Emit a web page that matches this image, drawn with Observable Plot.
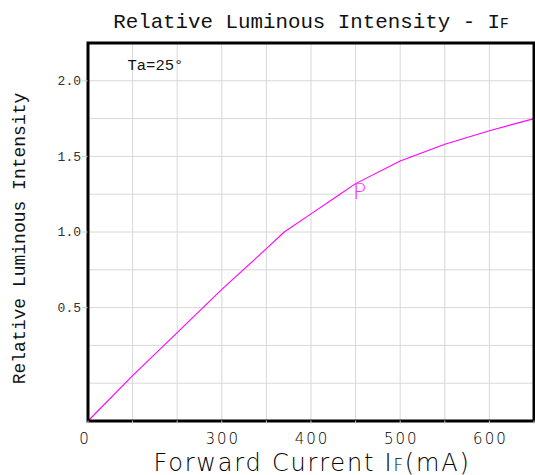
<!DOCTYPE html>
<html>
<head>
<meta charset="utf-8">
<script src="https://cdn.jsdelivr.net/npm/d3@7"></script>
<script src="https://cdn.jsdelivr.net/npm/@observablehq/plot@0.6"></script>
<style>
  html, body { margin: 0; padding: 0; background: #fff; }
  #chart svg { display: block; }
</style>
</head>
<body>
<div id="chart"></div>
<script>
// ---- data ----
const current   = [0, 100, 200, 300, 350, 370, 400, 430, 450, 500, 550, 600, 650];           // mA
const intensity = [0, 0.20, 0.39, 0.62, 0.89, 1.00, 1.12, 1.24, 1.32, 1.47, 1.58, 1.67, 1.75]; // relative
// grid (non-uniform axes of the datasheet: each grid cell is one step)
const xGrid = [0, 100, 200, 300, 350, 400, 450, 500, 550, 600, 650];
const yGrid = [0, 1/6, 1/3, 0.5, 0.75, 1, 1.25, 1.5, 1.75, 2, 2.25];
const xTickLabels = [300, 400, 500, 600];
const xOriginLabel = [0];
const yTickLabels = [0.5, 1.0, 1.5, 2.0];
const title  = "Relative Luminous Intensity - IF";
const xLabel = "Forward Current IF(mA)";
const yLabel = "Relative Luminous Intensity";
const note   = "Ta=25°";
const markerLabel = [{current: 447, intensity: 1.22, text: "P"}];

const data = current.map((c, i) => ({current: c, intensity: intensity[i]}));

const serif = "'Liberation Mono', 'DejaVu Sans Mono', monospace";
const sans = "'DejaVu Sans', sans-serif";
const gridColor = "#d8d8d8";

const plot = Plot.plot({
  width: 535,
  height: 475,
  marginLeft: 87.5,
  marginRight: 1.5,
  marginTop: 42.5,
  marginBottom: 54.5,
  style: {background: "#fff"},
  x: {type: "linear", domain: xGrid, label: null},
  y: {type: "linear", domain: yGrid, label: null},
  marks: [
    Plot.gridX(xGrid, {stroke: gridColor, strokeOpacity: 1, strokeWidth: 1}),
    Plot.gridY(yGrid, {stroke: gridColor, strokeOpacity: 1, strokeWidth: 1}),
    Plot.line(data, {x: "current", y: "intensity", stroke: "#ff00ff", strokeWidth: 1.1}),
    Plot.text(markerLabel, {x: "current", y: "intensity", text: "text", fill: "#ff33ff",
      fontFamily: sans, fontWeight: 200, fontSize: 22, textAnchor: "start", lineAnchor: "bottom"}),
    Plot.frame({stroke: "#000", strokeWidth: 3}),
    Plot.axisY(yTickLabels, {tickSize: 6, tickPadding: 1, stroke: "#cfcfcf", fill: "#333",
      tickFormat: d => d.toFixed(1), fontFamily: serif, fontSize: 13, label: null}),
    Plot.axisX(xGrid, {tickSize: 3, stroke: "#c8c8c8", tickFormat: () => "", label: null}),
    Plot.axisX(xOriginLabel, {tickSize: 0, tickPadding: 12, dx: -3, fill: "#000",
      fontFamily: sans, fontWeight: 200, fontSize: 15, label: null}),
    Plot.axisX(xTickLabels, {tickSize: 0, tickPadding: 12, dx: 1, fill: "#000",
      fontFamily: sans, fontWeight: 200, fontSize: 15, label: null}),
    Plot.text([title], {frameAnchor: "top", dy: -15.5, lineAnchor: "bottom",
      fontFamily: serif, fontSize: 20.8, fill: "#111"}),
    Plot.text([xLabel], {frameAnchor: "bottom", dy: 49.5, dx: 1, lineAnchor: "bottom",
      fontFamily: sans, fontWeight: 200, fontSize: 24, fill: "#000"}),
    Plot.text([yLabel], {frameAnchor: "left", textAnchor: "middle", dx: -63.5, dy: 6.5, rotate: -90,
      lineAnchor: "bottom", fontFamily: serif, fontSize: 18, fill: "#111"}),
    Plot.text([note], {frameAnchor: "top-left", dx: 39.5, dy: 26.5, textAnchor: "start", lineAnchor: "bottom",
      fontFamily: serif, fontSize: 15.5, fill: "#111"})
  ]
});

const xTickStrings = xTickLabels.concat(xOriginLabel).map(String);
d3.select(plot).selectAll("text").each(function () {
  const s = this.textContent;
  const t = d3.select(this);
  if (s === title || s === xLabel) {
    // small capital "F" in "IF"
    const i = s.indexOf("IF");
    t.text(null);
    t.append("tspan").text(s.slice(0, i + 1));
    t.append("tspan").attr("font-size", "70%").text("F");
    t.append("tspan").text(s.slice(i + 2));
    if (s === xLabel) t.attr("letter-spacing", "1.8px");
  } else if (xTickStrings.includes(s)) {
    t.attr("letter-spacing", "2px");
  }
});

document.getElementById("chart").appendChild(plot);
</script>
</body>
</html>
